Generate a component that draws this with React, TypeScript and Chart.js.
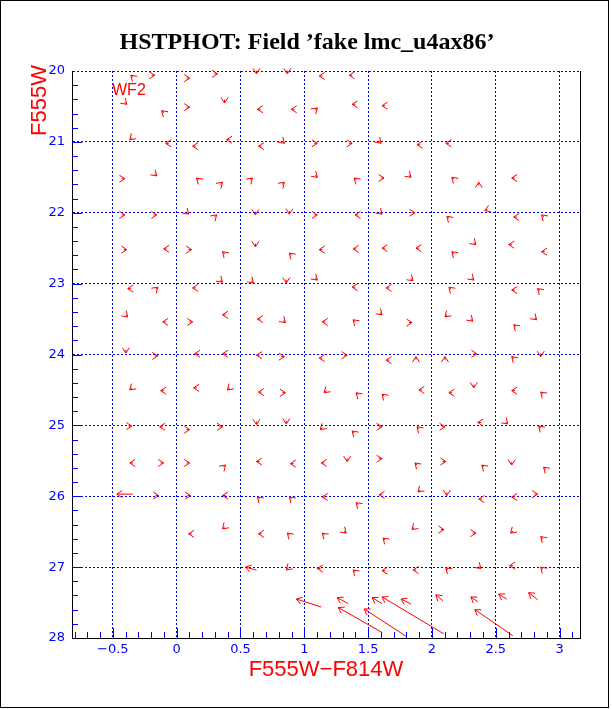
import React, { useEffect, useRef } from "react";
import { Chart, registerables } from "chart.js";

Chart.register(...registerables);

const BLUE = "#0000ff";
const RED = "#ff0000";

const titleText = "HSTPHOT: Field \u2019fake lmc_u4ax86\u2019";
const xTitle = "F555W\u2212F814W";
const yTitle = "F555W";
const chipLabel = "WF2";

const xTickValues = [-0.5, 0, 0.5, 1, 1.5, 2, 2.5, 3];
const yTickValues = [20, 21, 22, 23, 24, 25, 26, 27, 28];
const xRange = [-0.82, 3.16];
const yRange = [20, 28];

// arrow tips: recovered colour (F555W-F814W) and magnitude (F555W)
const color = [
  // ~20.0
  -0.359, -0.172, 0.102, 0.32, 0.625, 0.867, 1.117, 1.352,
  // ~20.5
  -0.391, -0.117, 0.102, 0.375, 0.633, 0.898, 1.102, 1.375, 1.609,
  // ~21.0
  -0.367, -0.086, 0.125, 0.391, 0.641, 0.844, 1.102, 1.375, 1.602, 1.883, 2.109,
  // ~21.5
  -0.406, -0.156, 0.156, 0.359, 0.594, 0.844, 1.102, 1.391, 1.625, 1.836, 2.156, 2.367, 2.625,
  // ~22.0
  -0.406, -0.156, 0.094, 0.313, 0.617, 0.883, 1.102, 1.398, 1.609, 1.867, 2.117, 2.414, 2.641, 2.859,
  // ~22.5
  -0.391, -0.102, 0.117, 0.359, 0.617, 0.883, 1.117, 1.383, 1.609, 1.875, 2.156, 2.344, 2.602, 2.859,
  // ~23.0
  -0.383, -0.148, 0.125, 0.359, 0.602, 0.859, 1.102, 1.375, 1.641, 1.852, 2.133, 2.328, 2.625, 2.828,
  // ~23.5
  -0.383, -0.109, 0.125, 0.359, 0.633, 0.852, 1.141, 1.383, 1.609, 1.844, 2.102, 2.32, 2.641, 2.82,
  // ~24.0
  -0.398, -0.148, 0.141, 0.359, 0.625, 0.844, 1.117, 1.336, 1.641, 1.875, 2.102, 2.352, 2.625, 2.852,
  // ~24.5
  -0.367, -0.125, 0.133, 0.398, 0.641, 0.852, 1.156, 1.406, 1.609, 1.898, 2.133, 2.328, 2.625, 2.852,
  // ~25.0
  -0.352, -0.133, 0.102, 0.359, 0.625, 0.859, 1.125, 1.375, 1.609, 1.883, 2.102, 2.359, 2.594, 2.836,
  // ~25.5
  -0.367, -0.102, 0.102, 0.383, 0.625, 0.891, 1.133, 1.336, 1.609, 1.867, 2.109, 2.391, 2.625, 2.875,
  // ~26.0
  -0.469, -0.141, 0.109, 0.359, 0.633, 0.883, 1.141, 1.406, 1.586, 1.891, 2.117, 2.367, 2.625, 2.828,
  // ~26.5
  0.094, 0.359, 0.641, 0.867, 1.141, 1.328, 1.617, 1.844, 2.094, 2.344, 2.617, 2.852,
  // ~27.0
  0.539, 0.859, 1.102, 1.383, 1.609, 1.852, 2.109, 2.383, 2.609, 2.852,
  // ~27.4
  0.938, 1.258, 1.531, 1.609, 1.758, 2.031, 2.305, 2.523, 2.758,
  // ~27.6
  1.266, 1.469, 2.336,
];

const mag = [
  20.06, 20.06, 20.1, 20.04, 20.04, 20.04, 20.07, 20.06,
  20.47, 20.56, 20.51, 20.45, 20.54, 20.54, 20.52, 20.47, 20.49,
  20.97, 21.02, 21.06, 20.97, 21.06, 21.02, 21.02, 21.02, 21.02, 21.04, 21.02,
  21.52, 21.48, 21.51, 21.57, 21.51, 21.57, 21.5, 21.51, 21.51, 21.5, 21.5, 21.57, 21.51,
  22.03, 22.03, 22.02, 22.03, 22.03, 22.02, 22.03, 22.03, 22.02, 22.0, 22.05, 21.97, 22.06, 22.03,
  22.52, 22.51, 22.52, 22.55, 22.48, 22.57, 22.52, 22.51, 22.5, 22.5, 22.55, 22.45, 22.45, 22.55,
  23.07, 23.05, 23.06, 22.98, 22.99, 22.99, 22.95, 23.05, 23.06, 22.96, 23.05, 22.95, 23.09, 23.07,
  23.47, 23.54, 23.54, 23.44, 23.5, 23.55, 23.54, 23.51, 23.44, 23.55, 23.47, 23.53, 23.58, 23.51,
  23.98, 24.02, 23.99, 23.99, 24.01, 24.03, 24.05, 24.01, 24.08, 24.03, 24.03, 23.99, 24.03, 24.03,
  24.5, 24.51, 24.47, 24.5, 24.53, 24.54, 24.54, 24.54, 24.56, 24.5, 24.54, 24.47, 24.51, 24.53,
  25.01, 25.02, 25.06, 25.02, 24.99, 24.98, 25.06, 25.08, 25.02, 25.02, 25.02, 24.96, 24.98, 25.01,
  25.53, 25.53, 25.53, 25.56, 25.51, 25.54, 25.53, 25.51, 25.47, 25.53, 25.51, 25.56, 25.56, 25.59,
  25.97, 25.99, 25.99, 25.99, 26.01, 26.01, 26.01, 26.09, 25.98, 25.94, 25.99, 26.04, 26.01, 25.97,
  26.53, 26.46, 26.53, 26.52, 26.52, 26.52, 26.59, 26.47, 26.47, 26.52, 26.52, 26.57,
  27.0, 27.04, 27.02, 27.04, 27.05, 27.04, 27.01, 27.02, 26.98, 27.0,
  27.45, 27.43, 27.43, 27.42, 27.45, 27.39, 27.42, 27.38, 27.36,
  27.57, 27.59, 27.6,
];

// shift (recovered - injected) in colour
const dColor = [
  -0.018, 0.025, 0.025, 0.025, 0, 0, -0.025, -0.025,
  0.018, -0.018, 0.025, 0, -0.025, -0.025, 0.018, -0.025, -0.025,
  -0.018, -0.025, -0.025, -0.025, -0.025, 0.018, 0.025, 0.025, 0.018, -0.025, -0.025,
  0.025, 0.018, -0.018, 0.018, 0.018, 0.018, 0.018, -0.018, 0.025, 0.018, -0.018, 0, -0.025,
  0.025, 0.025, 0.018, 0.018, 0, 0, 0.025, -0.025, 0.018, 0.025, -0.018, -0.022, -0.025, -0.018,
  0.025, -0.025, 0.025, -0.018, 0, -0.018, -0.025, -0.025, -0.025, -0.025, -0.018, 0.018, -0.025, -0.025,
  -0.025, 0.018, -0.025, 0.018, 0.018, 0, 0.018, -0.025, -0.025, 0.018, -0.018, 0.018, -0.025, -0.018,
  0.018, -0.025, 0.025, -0.025, -0.025, 0.018, -0.025, -0.018, 0.018, 0.025, -0.018, 0.018, -0.018, 0.018,
  0, 0.025, -0.025, -0.025, -0.025, 0.025, -0.025, 0.025, -0.025, 0, 0, 0.025, -0.018, 0,
  -0.018, -0.025, -0.025, -0.018, -0.025, 0.025, -0.018, -0.018, -0.018, -0.025, -0.025, 0, -0.025, -0.018,
  0.025, -0.025, 0.025, 0.025, 0, 0, -0.018, -0.018, 0.025, -0.018, 0.025, -0.025, 0.018, -0.018,
  -0.025, 0.025, 0.025, 0.018, -0.025, -0.025, -0.025, 0, 0.025, -0.018, 0.025, -0.018, 0, -0.018,
  -0.125, 0.025, 0.025, -0.025, -0.018, -0.018, -0.025, -0.018, -0.025, -0.018, 0, -0.025, -0.025, 0.025,
  -0.025, -0.018, -0.025, -0.018, -0.018, 0.018, -0.018, -0.018, 0.025, 0.025, -0.018, -0.018,
  -0.086, -0.018, -0.025, -0.018, -0.025, -0.025, -0.018, 0.018, -0.025, -0.018,
  -0.195, -0.086, -0.078, -0.484, -0.078, -0.055, -0.055, -0.063, -0.07,
  -0.344, -0.336, -0.297,
];

// shift (recovered - injected) in magnitude
const dMag = [
  -0.03, 0, 0, 0, 0.045, 0.045, 0, 0,
  0.03, -0.03, 0, 0.045, 0, 0, -0.03, 0, 0,
  0.03, 0, 0, 0, 0, 0.03, 0, 0, 0.03, 0, 0,
  0, 0.03, -0.03, -0.03, -0.03, -0.03, 0.03, -0.03, 0, 0.03, -0.03, -0.045, 0,
  0, 0, 0.03, -0.03, 0.045, 0.045, 0, 0, 0.03, 0, -0.03, 0.015, 0, -0.03,
  0, 0, 0, -0.03, 0.045, -0.03, 0, 0, 0, 0, -0.03, 0.03, 0, 0,
  0, -0.03, 0, 0.03, 0.03, 0.045, 0.03, 0, 0, 0.03, -0.03, 0.03, 0, -0.03,
  0.03, 0, 0, 0, 0, 0.03, 0, -0.03, 0.03, 0, 0.03, 0.03, -0.03, 0.03,
  0.045, 0, 0, 0, 0, 0, 0, 0, 0, -0.045, -0.045, 0, -0.03, 0.045,
  0.03, 0, 0, 0.03, 0, 0, 0.03, -0.03, -0.03, 0, 0, 0.045, 0, -0.03,
  0, 0, 0, 0, 0.045, 0.045, 0.03, -0.03, 0, -0.03, 0, 0, 0.03, -0.03,
  0, 0, 0, -0.03, 0, 0, 0, 0.045, 0, -0.03, 0, -0.03, 0.045, -0.03,
  0, 0, 0, 0, -0.03, -0.03, 0, -0.03, 0, 0.03, 0.045, 0, 0, 0,
  0, 0.03, 0, -0.03, -0.03, 0.03, -0.03, 0.03, 0, 0, 0.03, -0.03,
  -0.042, 0.03, 0, -0.03, 0, 0, -0.03, 0.03, 0, -0.03,
  -0.113, -0.085, -0.085, -0.522, -0.071, -0.085, -0.071, -0.071, -0.099,
  -0.353, -0.395, -0.367,
];

const fmtX = (v: number) => (v < 0 ? "\u2212" + Math.abs(v) : String(v));

const decorPlugin = {
  id: "decor",
  beforeDraw(chart: any) {
    const { ctx, width, height } = chart;
    ctx.save();
    ctx.fillStyle = "#ffffff";
    ctx.fillRect(0, 0, width, height);
    ctx.restore();
  },
  afterDatasetsDraw(chart: any) {
    const { ctx } = chart;
    const xs = chart.scales.x;
    const ys = chart.scales.y;
    const meta = chart.getDatasetMeta(0);
    const data = chart.data.datasets[0].data as any[];
    const L = 6.5;
    const h = 0.58;
    ctx.save();
    ctx.strokeStyle = RED;
    ctx.lineWidth = 1;
    meta.data.forEach((el: any, i: number) => {
      const d = data[i];
      const tx = el.x;
      const ty = el.y;
      const sx = xs.getPixelForValue(d.x - d.dx);
      const sy = ys.getPixelForValue(d.y - d.dy);
      const ang = Math.atan2(ty - sy, tx - sx);
      ctx.beginPath();
      ctx.moveTo(sx, sy);
      ctx.lineTo(tx, ty);
      ctx.moveTo(tx - L * Math.cos(ang - h), ty - L * Math.sin(ang - h));
      ctx.lineTo(tx, ty);
      ctx.lineTo(tx - L * Math.cos(ang + h), ty - L * Math.sin(ang + h));
      ctx.stroke();
    });
    ctx.restore();
  },
  afterDraw(chart: any) {
    const { ctx, chartArea: a } = chart;
    const xs = chart.scales.x;
    const ys = chart.scales.y;
    ctx.save();
    // inward minor ticks
    ctx.strokeStyle = BLUE;
    ctx.lineWidth = 1;
    ctx.beginPath();
    for (let k = -8; k <= 31; k++) {
      const px = Math.round(xs.getPixelForValue(k / 10)) + 0.5;
      const len = k % 5 === 0 ? 10 : 6;
      ctx.moveTo(px, a.bottom);
      ctx.lineTo(px, a.bottom - len);
    }
    for (let k = 101; k < 140; k++) {
      const py = Math.round(ys.getPixelForValue(k / 5)) + 0.5;
      const len = k % 5 === 0 ? 10 : 6;
      ctx.moveTo(a.left, py);
      ctx.lineTo(a.left + len, py);
    }
    ctx.stroke();
    // right frame
    ctx.strokeStyle = "#000000";
    ctx.beginPath();
    ctx.moveTo(Math.round(a.right) + 0.5, a.top);
    ctx.lineTo(Math.round(a.right) + 0.5, a.bottom + 0.5);
    ctx.stroke();
    // outer frame
    ctx.strokeRect(0.5, 0.5, 608, 707);
    // title
    ctx.fillStyle = "#000000";
    ctx.font = "bold 24px 'Liberation Serif'";
    ctx.textAlign = "center";
    ctx.textBaseline = "alphabetic";
    ctx.fillText(titleText, 307, 49);
    // x title
    ctx.fillStyle = RED;
    ctx.font = "22px 'Liberation Sans'";
    ctx.fillText(xTitle, (a.left + a.right) / 2, 676);
    // chip label
    ctx.font = "16px 'Liberation Sans'";
    ctx.textAlign = "left";
    ctx.fillText(chipLabel, 112, 95);
    // y title
    ctx.font = "22px 'Liberation Sans'";
    ctx.translate(46, 136);
    ctx.rotate(-Math.PI / 2);
    ctx.fillText(yTitle, 0, 0);
    ctx.restore();
  },
};

export default function App() {
  const ref = useRef<HTMLCanvasElement | null>(null);
  useEffect(() => {
    if (!ref.current) return;
    const chart = new Chart(ref.current, {
      type: "scatter",
      data: {
        datasets: [
          {
            data: color.map((c, i) => ({ x: c, y: mag[i], dx: dColor[i], dy: dMag[i] })),
            pointRadius: 0,
            pointHoverRadius: 0,
            showLine: false,
          } as any,
        ],
      },
      options: {
        animation: false,
        responsive: false,
        events: [],
        layout: { padding: { left: 0, right: 32, top: 71, bottom: 0 } },
        plugins: { legend: { display: false }, tooltip: { enabled: false }, title: { display: false } },
        scales: {
          x: {
            type: "linear",
            position: "bottom",
            min: xRange[0],
            max: xRange[1],
            afterBuildTicks: (s: any) => {
              s.ticks = xTickValues.map((value) => ({ value }));
            },
            afterFit: (s: any) => {
              s.height = 71;
            },
            ticks: {
              color: BLUE,
              font: { family: "'DejaVu Sans'", size: 13 },
              padding: 4,
              maxRotation: 0,
              autoSkip: false,
              callback: (v: any) => fmtX(Number(v)),
            },
            grid: { color: BLUE, lineWidth: 1, drawTicks: false },
            border: { display: true, color: "#000000", width: 1, dash: [2, 2] },
          },
          y: {
            type: "linear",
            reverse: true,
            min: yRange[0],
            max: yRange[1],
            afterBuildTicks: (s: any) => {
              s.ticks = yTickValues.map((value) => ({ value }));
            },
            afterFit: (s: any) => {
              s.width = 72;
            },
            ticks: {
              color: BLUE,
              font: { family: "'DejaVu Sans'", size: 13 },
              padding: 7,
              autoSkip: false,
              callback: (v: any) => String(v),
            },
            grid: {
              color: (c: any) => (c.tick && c.tick.value === yRange[1] ? "rgba(0,0,0,0)" : BLUE),
              lineWidth: 1,
              drawTicks: false,
            },
            border: { display: true, color: "#000000", width: 1, dash: [2, 2] },
          },
        },
      } as any,
      plugins: [decorPlugin],
    });
    return () => chart.destroy();
  }, []);
  return (
    <div style={{ position: "fixed", left: 0, top: 0, width: 612, height: 709 }}>
      <canvas ref={ref} width={612} height={709} style={{ width: 612, height: 709, display: "block" }} />
    </div>
  );
}
